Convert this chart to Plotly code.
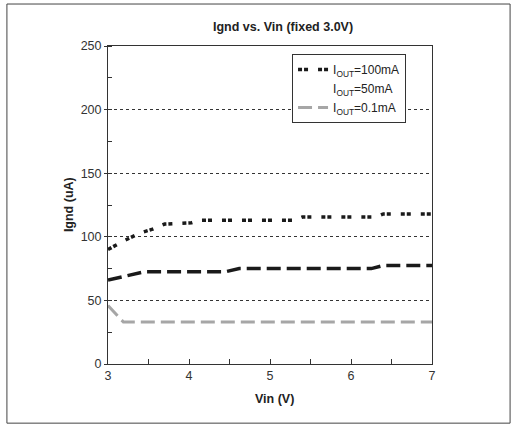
import plotly.graph_objects as go

vin_100 = [3.0, 3.2, 3.4, 3.55, 3.7, 4.03, 4.13, 5.3, 5.4, 6.3, 6.4, 7.0]
ignd_100 = [90, 97, 103, 106, 110, 111, 113, 113, 115.5, 115.5, 118, 118]

vin_50 = [3.0, 3.45, 4.45, 4.62, 6.25, 6.4, 7.0]
ignd_50 = [66, 72.5, 72.5, 75, 75, 77.5, 77.5]

vin_01 = [3.0, 3.19, 7.0]
ignd_01 = [46, 33, 33]

names = ["I<sub>OUT</sub>=100mA", "I<sub>OUT</sub>=50mA", "I<sub>OUT</sub>=0.1mA"]

FONT = "Liberation Sans, Arial, sans-serif"
fig = go.Figure()
fig.add_trace(go.Scatter(x=vin_100, y=ignd_100, mode="lines", name=names[0],
                         line=dict(color="#1a1a1a", width=3.5, dash="4px,2px,4px,10px")))
# legend-only entry for 50mA (no sample line shown in reference)
fig.add_trace(go.Scatter(x=[None], y=[None], mode="lines", name=names[1],
                         line=dict(color="rgba(0,0,0,0)", width=1)))
fig.add_trace(go.Scatter(x=vin_50, y=ignd_50, mode="lines", name=names[1], showlegend=False,
                         line=dict(color="#1a1a1a", width=3.5, dash="14px,6px")))
fig.add_trace(go.Scatter(x=vin_01, y=ignd_01, mode="lines", name=names[2],
                         line=dict(color="#a6a6a6", width=3, dash="14px,6px")))

fig.update_layout(
    width=512, height=426,
    margin=dict(l=108, r=80, t=46, b=62),
    paper_bgcolor="white", plot_bgcolor="white",
    font=dict(family=FONT, size=12, color="#333"),
    showlegend=True,
    legend=dict(x=0.568, y=0.975, xanchor="left", yanchor="top",
                bordercolor="#333", borderwidth=1, bgcolor="white",
                font=dict(size=12, color="#222"), tracegroupgap=0),
    xaxis=dict(range=[3, 7], tickvals=[3, 4, 5, 6, 7], ticks="inside", ticklen=5,
               tickcolor="#333", showline=True, linecolor="#333", linewidth=1, mirror=True,
               showgrid=False, zeroline=False,
               minor=dict(dtick=0.5, ticks="inside", ticklen=5, tickcolor="#333", showgrid=False),
               tickfont=dict(size=12.5, color="#333")),
    yaxis=dict(range=[0, 250], dtick=50, ticks="outside", ticklen=3, tickcolor="#333",
               showline=True, linecolor="#333", linewidth=1, mirror=True,
               showgrid=True, gridcolor="#333", griddash="dot", gridwidth=1, zeroline=False,
               minor=dict(dtick=25, ticks="inside", ticklen=4, tickcolor="#333", showgrid=False),
               tickfont=dict(size=12.5, color="#333")),
    annotations=[
        dict(text="<b>Ignd vs. Vin (fixed 3.0V)</b>", x=0.54, y=1.06, xref="paper", yref="paper",
             xanchor="center", yanchor="middle",
             showarrow=False, font=dict(size=12.5, color="#222")),
        dict(text="<b>Vin (V)</b>", x=0.515, y=-0.11, xref="paper", yref="paper",
             xanchor="center", yanchor="middle",
             showarrow=False, font=dict(size=12.5, color="#222")),
        dict(text="<b>Ignd (uA)</b>", x=-0.12, y=0.5, xref="paper", yref="paper", textangle=-90,
             xanchor="center", yanchor="middle",
             showarrow=False, font=dict(size=12.5, color="#222")),
    ],
    shapes=[dict(type="rect", xref="paper", yref="paper", x0=-0.312, x1=1.241, y0=-0.186, y1=1.132,
                 line=dict(color="#444", width=1), layer="below")],
)

fig.write_html("out.html", config={"displayModeBar": False},
               post_script="document.body.style.margin='0';document.body.style.overflow='hidden';")
